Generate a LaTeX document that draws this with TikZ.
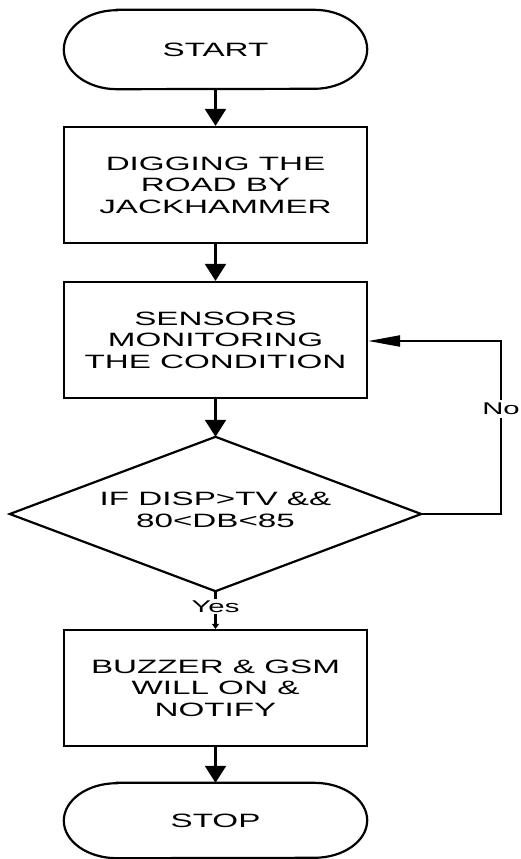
\documentclass[tikz,border=0pt]{standalone}
\usepackage{fontspec}
\newfontfamily\diagfont[FakeStretch=1.72]{Liberation Sans}
\usetikzlibrary{arrows.meta}
\begin{document}
\begin{tikzpicture}[x=1pt,y=-1pt,
  txt/.style={font=\diagfont\fontsize{19.3}{21.5}\selectfont, align=center, inner sep=0pt},
  procbox/.style={txt, draw, line width=2.2pt, minimum width=303pt, minimum height=116pt},
  term/.style={txt, minimum width=303pt, minimum height=79pt},
  lbl/.style={font=\diagfont\fontsize{17}{19}\selectfont, inner sep=1.5pt},
  conn/.style={line width=2.2pt},
  varrow/.style={conn, -{Triangle[length=17pt,width=21pt]}},
  harrow/.style={conn, -{Triangle[length=32pt,width=11pt]}},
  smallarrow/.style={conn, -{Triangle[length=5pt,width=7pt]}}
]
\fill[white] (0,0) rectangle (520,859);
\useasboundingbox (0,0) rectangle (520,859);

% terminals
\node[term] (start) at (215.5,49.5) {START};
\draw[line width=2.2pt] ([xshift=53pt]start.north west) -- ([xshift=-53pt]start.north east)
  arc[start angle=90,end angle=-90,x radius=53pt,y radius=39.5pt]
  -- ([xshift=53pt]start.south west)
  arc[start angle=270,end angle=90,x radius=53pt,y radius=39.5pt] -- cycle;

\node[procbox] (b1) at (215.5,185) {DIGGING THE\\ROAD BY\\JACKHAMMER};
\node[procbox] (b2) at (215.5,340) {SENSORS\\MONITORING\\THE CONDITION};

% decision
\node[minimum width=411pt, minimum height=154pt, inner sep=0pt] (dec) at (215.5,514) {};
\draw[line width=2.2pt] (dec.north) -- (dec.east) -- (dec.south) -- (dec.west) -- cycle;
\node[txt] (dectext) at (215.5,510) {IF DISP>TV \&\&\\80<DB<85};

\node[procbox] (b3) at (215.5,688) {BUZZER \& GSM\\WILL ON \&\\NOTIFY};

\node[term, minimum height=75pt] (stop) at (215.5,820.5) {STOP};
\draw[line width=2.2pt] ([xshift=53pt]stop.north west) -- ([xshift=-53pt]stop.north east)
  arc[start angle=90,end angle=-90,x radius=53pt,y radius=37.5pt]
  -- ([xshift=53pt]stop.south west)
  arc[start angle=270,end angle=90,x radius=53pt,y radius=37.5pt] -- cycle;

% connectors
\draw[varrow] (start.south) -- (b1.north);
\draw[varrow] (b1.south) -- (b2.north);
\draw[varrow] (b2.south) -- (dec.north);

\node[lbl] (yes) at (215.5,606.5) {Yes};
\draw[conn] (dec.south) -- (yes.north);
\draw[smallarrow] (yes.south) -- (b3.north);

\draw[varrow] (b3.south) -- (stop.north);

\coordinate (nc) at (501,341);
\draw[harrow] (dec.east) -| (nc) -- (b2.east |- nc);
\node[lbl, fill=white, inner sep=3pt] (no) at (501,409) {No};
\end{tikzpicture}
\end{document}
